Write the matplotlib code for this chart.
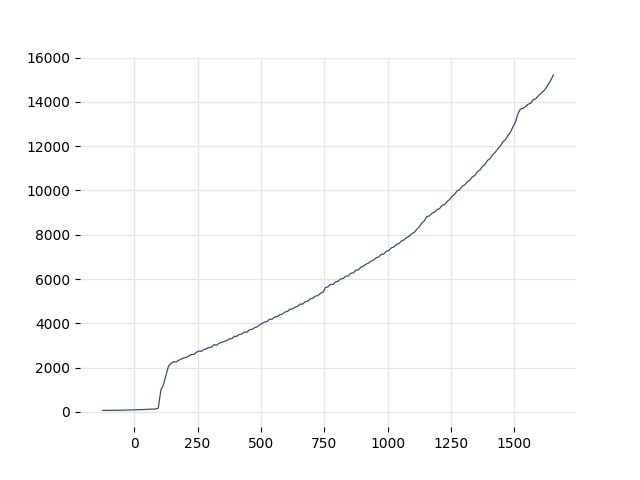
import matplotlib
matplotlib.use("Agg")
import matplotlib.pyplot as plt
import numpy as np

# cumulative values, one every 10 steps from -125
x_start, x_step = -125, 10
values = [
    72, 70, 74, 71, 76, 73, 78, 80, 79, 84, 88, 90, 95, 98, 102, 105, 110, 114,
    120, 125, 132, 138, 170, 980, 1220, 1640, 2060, 2190,
    2270, 2250, 2330, 2380, 2440, 2460, 2520, 2590, 2600, 2690, 2750, 2740,
    2820, 2860, 2910, 2930, 3040, 3010, 3100, 3140, 3190, 3220, 3300, 3310,
    3410, 3420, 3500, 3520, 3610, 3600, 3710, 3730, 3800, 3840, 3930, 4000,
    4060, 4090, 4190, 4190, 4290, 4310, 4390, 4420, 4510, 4540, 4640, 4650,
    4730, 4770, 4870, 4870, 4980, 5000, 5110, 5130, 5230, 5250, 5360, 5400,
    5620, 5650, 5760, 5760, 5870, 5900, 6010, 6030, 6130, 6140, 6260, 6280,
    6400, 6420, 6540, 6590, 6670, 6720, 6810, 6860, 6960, 7000, 7110, 7130,
    7260, 7290, 7410, 7450, 7570, 7600, 7720, 7770, 7870, 7930, 8050, 8100,
    8240, 8350, 8520, 8630, 8820, 8850, 8970, 9020, 9130, 9180, 9320, 9360,
    9500, 9590, 9740, 9830, 9990, 10040, 10190, 10260, 10390, 10470, 10620,
    10680, 10850, 10930, 11090, 11180, 11360, 11440, 11620, 11720, 11880,
    12000, 12190, 12290, 12480, 12620, 12880, 13090, 13470, 13680, 13710,
    13800, 13890, 13940, 14100, 14140, 14270, 14380, 14480, 14610, 14800,
    14990, 15220,
]
x = x_start + x_step * np.arange(len(values))

fig, ax = plt.subplots(figsize=(6.4, 4.8), dpi=100)
ax.plot(x, values, color="#344f75", linewidth=0.9)

for side in ["top", "right", "bottom", "left"]:
    ax.spines[side].set_visible(False)
ax.grid(True, color="#e6e6e6", linewidth=1.0)
ax.set_axisbelow(True)
ax.set_yticks([0, 2000, 4000, 6000, 8000, 10000, 12000, 14000, 16000])

plt.savefig("out.png", dpi=100)
